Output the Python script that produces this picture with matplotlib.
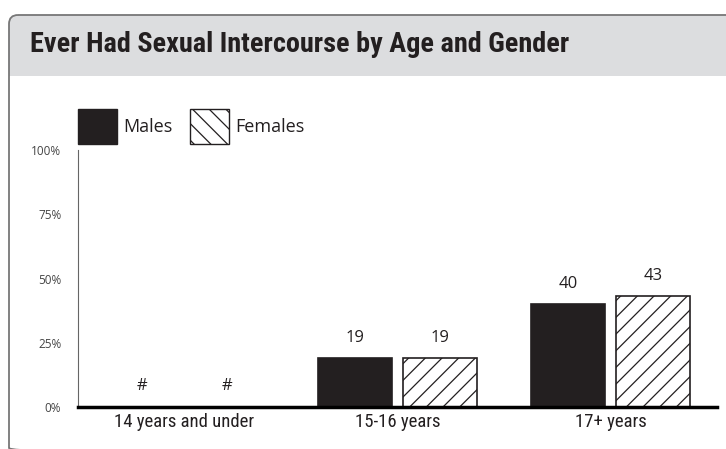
import matplotlib.pyplot as plt
from matplotlib.patches import FancyBboxPatch, Rectangle
import numpy as np

plt.rcParams['hatch.linewidth'] = 0.9

categories = ['14 years and under', '15-16 years', '17+ years']
males = [np.nan, 19, 40]
females = [np.nan, 19, 43]
male_labels = ['#', '19', '40']
female_labels = ['#', '19', '43']
yticks = [0, 25, 50, 75, 100]
ytick_labels = ['0%', '25%', '50%', '75%', '100%']

narrow = ['Roboto Condensed', 'Liberation Sans Narrow', 'Roboto', 'DejaVu Sans']
body = ['Open Sans', 'DejaVu Sans']
ink = '#231f20'

fig = plt.figure(figsize=(7.26, 4.49), dpi=100)

# frame + header, drawn in pixel units
bg = fig.add_axes([0, 0, 1, 1], zorder=0)
bg.set_xlim(0, 726)
bg.set_ylim(449, 0)
bg.axis('off')
bg.add_patch(FancyBboxPatch((9, 15), 800, 61, boxstyle='round,pad=0,rounding_size=9',
                            fc='#dcdddf', ec='none', clip_on=False))
bg.add_patch(Rectangle((9, 50), 800, 26, fc='#dcdddf', ec='none', clip_on=False))
bg.add_patch(FancyBboxPatch((9, 15), 800, 442, boxstyle='round,pad=0,rounding_size=9',
                            fc='none', ec='#777777', lw=1.3, clip_on=False))
bg.text(30, 45, 'Ever Had Sexual Intercourse by Age and Gender', fontsize=20.3,
        weight='bold', family=narrow, color=ink, va='center')

# legend
bg.add_patch(Rectangle((78, 109), 39, 35, fc=ink, ec=ink, lw=1))
bg.add_patch(Rectangle((190, 109), 39, 35, fc='white', ec=ink, lw=1, hatch='\\\\'))
bg.text(123, 127, 'Males', fontsize=13, family=body, color=ink, va='center')
bg.text(235, 127, 'Females', fontsize=13, family=body, color=ink, va='center')

ax = fig.add_axes([78/726, 42/449, 639/726, 257/449], zorder=1)
ax.patch.set_alpha(0)

x = np.arange(len(categories))
w = 0.345
off = 0.2
ax.bar(x - off, males, w, color=ink, edgecolor=ink, lw=1.2)
ax.bar(x + off, females, w, color='white', edgecolor=ink, hatch='//', lw=1.2)

for i in range(len(categories)):
    vm = 0 if np.isnan(males[i]) else males[i]
    vf = 0 if np.isnan(females[i]) else females[i]
    ax.text(x[i] - off, vm + 8, male_labels[i], ha='center', va='center',
            fontsize=12, family=body, color=ink)
    ax.text(x[i] + off, vf + 8, female_labels[i], ha='center', va='center',
            fontsize=12, family=body, color=ink)

ax.set_xlim(-0.5, 2.5)
ax.set_ylim(0, 100)
ax.spines['top'].set_visible(False)
ax.spines['right'].set_visible(False)
ax.spines['left'].set_color('#666666')
ax.spines['left'].set_linewidth(0.8)
ax.spines['bottom'].set_color('black')
ax.spines['bottom'].set_linewidth(2.5)

ax.set_yticks(yticks, ytick_labels)
ax.tick_params(axis='y', length=0, pad=12, labelsize=8.5, labelcolor='#444444')
for t in ax.get_yticklabels():
    t.set_family(body)
ax.set_xticks(x, categories)
ax.tick_params(axis='x', length=0, pad=4, labelsize=13.5, labelcolor=ink)
for t in ax.get_xticklabels():
    t.set_family(narrow)

plt.savefig('out.png', dpi=100)
